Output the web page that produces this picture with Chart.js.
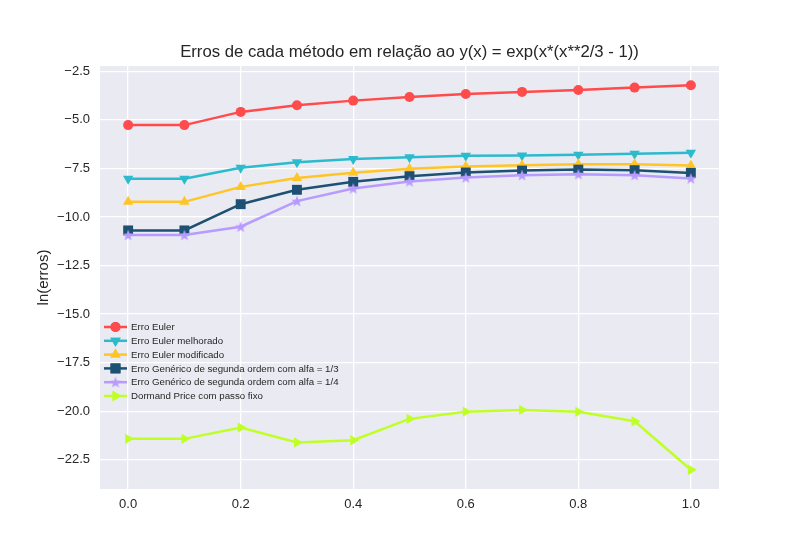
<!DOCTYPE html>
<html>
<head>
<meta charset="utf-8">
<script src="https://cdn.jsdelivr.net/npm/chart.js@4/dist/chart.umd.min.js"></script>
<style>
  html, body { margin: 0; padding: 0; background: #fff; }
  #wrap { width: 800px; height: 550px; }
</style>
</head>
<body>
<div id="wrap"><canvas id="c" width="800" height="550"></canvas></div>
<script>
// x values (step h = 0.1)
const xValues = [0.0, 0.1, 0.2, 0.3, 0.4, 0.5, 0.6, 0.7, 0.8, 0.9, 1.0];

// ln(erro) for each method
const erroEuler      = [-5.27, -5.27, -4.59, -4.25, -4.01, -3.82, -3.67, -3.56, -3.46, -3.34, -3.22];
const erroMelhorado  = [-8.03, -8.03, -7.47, -7.18, -7.01, -6.92, -6.85, -6.83, -6.79, -6.74, -6.69];
const erroModificado = [-9.22, -9.22, -8.45, -7.99, -7.72, -7.52, -7.40, -7.33, -7.29, -7.29, -7.35];
const erroAlfa13     = [-10.69, -10.69, -9.34, -8.60, -8.19, -7.90, -7.71, -7.61, -7.56, -7.59, -7.73];
const erroAlfa14     = [-10.93, -10.93, -10.50, -9.18, -8.53, -8.17, -7.97, -7.85, -7.80, -7.85, -8.02];
const erroDormand    = [-21.42, -21.42, -20.84, -21.61, -21.49, -20.39, -20.02, -19.93, -20.03, -20.51, -23.01];

// tick labels
const xTicks = [0.0, 0.2, 0.4, 0.6, 0.8, 1.0];
const yTicks = [-2.5, -5.0, -7.5, -10.0, -12.5, -15.0, -17.5, -20.0, -22.5];

const FONT = "'Liberation Sans', Arial, sans-serif";
const TEXT = '#262626';

// filled five point star, like matplotlib '*'
function starImage(color, size) {
    var c = document.createElement('canvas');
    c.width = size; c.height = size;
    var g = c.getContext('2d');
    var R = size / 2, r = R * 0.42;
    g.beginPath();
    for (var k = 0; k < 10; k++) {
        var rad = (k % 2 === 0) ? R : r;
        var a = -Math.PI / 2 + k * Math.PI / 5;
        var px = R + rad * Math.cos(a), py = R + 0.5 + rad * Math.sin(a);
        if (k === 0) g.moveTo(px, py); else g.lineTo(px, py);
    }
    g.closePath();
    g.fillStyle = color;
    g.fill();
    return c;
}

function pts(ys) {
    return xValues.map(function(x, i) { return { x: x, y: ys[i] }; });
}

function serie(label, ys, color, style, rotation, radius) {
    return {
        label: label,
        data: pts(ys),
        borderColor: color,
        backgroundColor: color,
        borderWidth: 2.5,
        pointStyle: style,
        rotation: rotation,
        pointRadius: radius,
        pointBackgroundColor: color,
        pointBorderColor: color,
        pointBorderWidth: 0,
        tension: 0,
        fill: false
    };
}

var datasets = [
    serie('Erro Euler', erroEuler, '#FF4B4B', 'circle', 0, 5),
    serie('Erro Euler melhorado', erroMelhorado, '#2CBBCC', 'triangle', 180, 6),
    serie('Erro Euler modificado', erroModificado, '#FFC527', 'triangle', 0, 6),
    serie('Erro Genérico de segunda ordem com alfa = 1/3', erroAlfa13, '#1D5072', 'rect', 0, 7),
    serie('Erro Genérico de segunda ordem com alfa = 1/4', erroAlfa14, '#B89BFF', starImage('#B89BFF', 12), 0, 6),
    serie('Dormand Price com passo fixo', erroDormand, '#BFFF26', 'triangle', 90, 6)
];
// later series on top, like matplotlib
datasets.forEach(function(ds, i) { ds.order = datasets.length - i; });

const plotBackground = {
    id: 'plotBackground',
    beforeDraw: function(chart) {
        var a = chart.chartArea, ctx = chart.ctx;
        ctx.save();
        ctx.fillStyle = '#EAEAF2';
        ctx.fillRect(a.left, a.top, a.right - a.left, a.bottom - a.top);
        ctx.restore();
    }
};

// legend drawn inside the axes, lower left, no frame
const innerLegend = {
    id: 'innerLegend',
    afterDraw: function(chart) {
        var ctx = chart.ctx;
        var x0 = 104, x1 = 127, y0 = 327, dy = 13.8;
        ctx.save();
        chart.data.datasets.forEach(function(ds, i) {
            var y = y0 + i * dy;
            ctx.strokeStyle = ds.borderColor;
            ctx.lineWidth = 2.5;
            ctx.beginPath();
            ctx.moveTo(x0, y);
            ctx.lineTo(x1, y);
            ctx.stroke();
            var mx = (x0 + x1) / 2;
            if (ds.pointStyle instanceof HTMLCanvasElement) {
                ctx.drawImage(ds.pointStyle, mx - ds.pointStyle.width / 2, y - ds.pointStyle.height / 2);
            } else {
                ctx.fillStyle = ds.borderColor;
                Chart.helpers.drawPoint(ctx, {
                    pointStyle: ds.pointStyle,
                    rotation: ds.rotation,
                    radius: ds.pointRadius,
                    borderWidth: 0
                }, mx, y);
                ctx.fill();
            }
            ctx.fillStyle = TEXT;
            ctx.font = '9.7px ' + FONT;
            ctx.textAlign = 'left';
            ctx.textBaseline = 'middle';
            ctx.fillText(ds.label, 131, y + 0.5);
        });
        ctx.restore();
    }
};

new Chart(document.getElementById('c'), {
    type: 'line',
    data: { datasets: datasets },
    plugins: [plotBackground, innerLegend],
    options: {
        responsive: false,
        animation: false,
        events: [],
        layout: { padding: { left: 0, right: 81, top: 0, bottom: 0 } },
        plugins: {
            legend: { display: false },
            tooltip: { enabled: false },
            title: {
                display: true,
                fullSize: false,
                text: 'Erros de cada método em relação ao y(x) = exp(x*(x**2/3 - 1))',
                color: TEXT,
                font: { family: FONT, size: 16.7, weight: 'normal' },
                padding: { top: 42, bottom: 4 }
            }
        },
        scales: {
            x: {
                type: 'linear',
                min: -0.05,
                max: 1.05,
                afterFit: function(scale) { scale.height = 61; },
                afterBuildTicks: function(scale) {
                    scale.ticks = xTicks.map(function(v) { return { value: v }; });
                },
                grid: { color: '#FFFFFF', lineWidth: 1.3, drawTicks: false },
                border: { display: false },
                ticks: {
                    padding: 8,
                    color: TEXT,
                    font: { family: FONT, size: 13 },
                    callback: function(v) { return v.toFixed(1); }
                }
            },
            y: {
                type: 'linear',
                min: -24.0,
                max: -2.23,
                afterFit: function(scale) { scale.width = 100; },
                afterBuildTicks: function(scale) {
                    scale.ticks = yTicks.map(function(v) { return { value: v }; });
                },
                grid: { color: '#FFFFFF', lineWidth: 1.3, drawTicks: false },
                border: { display: false },
                title: {
                    display: true,
                    text: 'ln(erros)',
                    color: TEXT,
                    font: { family: FONT, size: 15 },
                    padding: { top: 35, bottom: 0 }
                },
                ticks: {
                    padding: 10,
                    color: TEXT,
                    font: { family: FONT, size: 13 },
                    callback: function(v) {
                        return (v < 0 ? '\u2212' : '') + Math.abs(v).toFixed(1);
                    }
                }
            }
        }
    }
});
</script>
</body>
</html>
